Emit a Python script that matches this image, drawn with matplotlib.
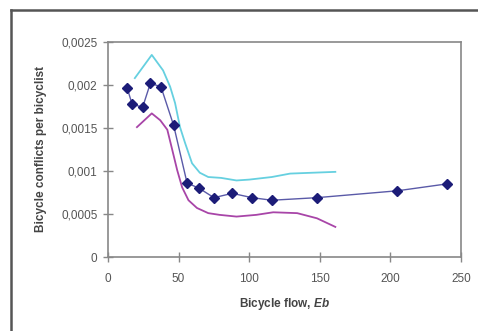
import matplotlib
matplotlib.use("Agg")
import matplotlib.pyplot as plt
from matplotlib.lines import Line2D
from matplotlib.ticker import FuncFormatter

# Data
main_x = [13.5, 17, 24.5, 30, 37.5, 46.5, 56, 64.5, 75, 88, 102, 116, 148, 205, 240]
main_y = [0.00197, 0.00178, 0.00174, 0.00202, 0.00198, 0.00153, 0.00086, 0.00080,
          0.00069, 0.00074, 0.00069, 0.00066, 0.00069, 0.00077, 0.00085]

upper_x = [19, 31, 39, 44, 47.5, 51, 54.5, 59.5, 65, 71, 80, 91, 100, 116, 129, 145, 161]
upper_y = [0.00208, 0.00235, 0.00217, 0.00198, 0.00179, 0.00151, 0.00133, 0.00109,
           0.00098, 0.00093, 0.00092, 0.00089, 0.00090, 0.00093, 0.00097, 0.00098, 0.00099]

lower_x = [20.5, 31, 37, 42, 45, 49, 52.5, 57, 63, 71, 79, 91, 105, 117, 134, 148, 161]
lower_y = [0.00151, 0.00167, 0.00159, 0.00148, 0.00128, 0.00101, 0.00081, 0.00066,
           0.00057, 0.00051, 0.00049, 0.00047, 0.00049, 0.00052, 0.00051, 0.00045, 0.00035]

x_ticks = [0, 50, 100, 150, 200, 250]
y_ticks = [0, 0.0005, 0.001, 0.0015, 0.002, 0.0025]

plt.rcParams['font.family'] = ['Liberation Sans', 'DejaVu Sans']
plt.rcParams['mathtext.fontset'] = 'custom'
plt.rcParams['mathtext.it'] = 'Liberation Sans:italic:bold'
plt.rcParams['mathtext.rm'] = 'Liberation Sans:bold'

W, H = 478, 331
fig = plt.figure(figsize=(W / 100, H / 100), dpi=100)
ax = fig.add_axes([108 / W, 1 - 257 / H, (461 - 108) / W, (257 - 42) / H])

ax.plot(upper_x, upper_y, color='#66d0e0', lw=1.3)
ax.plot(lower_x, lower_y, color='#a845a8', lw=1.3)
ax.plot(main_x, main_y, color='#5a5aa8', lw=1.0, marker='D', markersize=5,
        markerfacecolor='#1c1c78', markeredgecolor='#1c1c78')

ax.set_xlim(0, 250)
ax.set_ylim(0, 0.0025)
ax.set_xticks(x_ticks)
ax.set_yticks(y_ticks)

def fmt(v, pos):
    if v == 0:
        return '0'
    s = ('%.4f' % v).rstrip('0')
    return s.replace('.', ',')

ax.yaxis.set_major_formatter(FuncFormatter(fmt))
ax.tick_params(direction='inout', length=7, width=1, colors='#888888',
               labelcolor='#555555', labelsize=8.5)
ax.tick_params(axis='x', pad=8)
ax.tick_params(axis='y', pad=4)
for s in ax.spines.values():
    s.set_color('#888888')
    s.set_linewidth(1.2)

ax.set_xlabel('Bicycle flow, $\\mathit{Eb}$', fontsize=8.5, fontweight='bold',
              color='#444444', labelpad=8)
ax.set_ylabel('Bicycle conflicts per bicyclist', fontsize=8.5, fontweight='bold',
              color='#444444', labelpad=10)

# outer frame (partially visible)
fig.add_artist(Line2D([11 / W, 11 / W], [0, 1 - 10 / H], color='#555555', lw=1.8,
                      transform=fig.transFigure))
fig.add_artist(Line2D([11 / W, 1], [1 - 10 / H, 1 - 10 / H], color='#555555', lw=1.8,
                      transform=fig.transFigure))

fig.savefig('out.png', dpi=100)
